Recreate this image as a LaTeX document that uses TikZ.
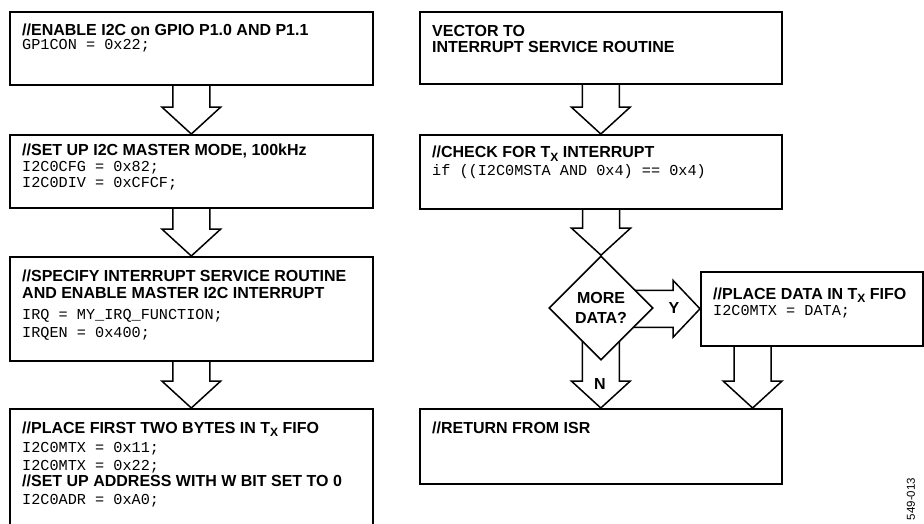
\documentclass[tikz,border=0pt]{standalone}
\usepackage{fontspec}
\setmainfont{Liberation Sans}
\newfontfamily\sansb{Liberation Sans}[BoldFont={* Bold}]
\newfontfamily\monof{Liberation Mono}
\usetikzlibrary{shapes.geometric,calc}
\pgfdeclarelayer{back}
\pgfdeclarelayer{bg}
\pgfsetlayers{back,bg,main}
\newcommand\bfx{\sansb\bfseries\fontsize{16}{16}\selectfont}
\newcommand\diafont{\sansb\bfseries\fontsize{16}{19.5}\selectfont}
\newcommand\mfx{\monof\mdseries\fontsize{15.2}{15.2}\selectfont}
\newcommand\Lb[2]{\par\bfx\baselineskip=#1pt\relax #2}
\newcommand\Lm[2]{\par\mfx\baselineskip=#1pt\relax #2}
\newcommand\TX{T\raisebox{-3.5pt}{\fontsize{12}{12}\selectfont X}}
\newcommand\txtblock[1]{\parbox[t]{340pt}{\lineskiplimit=-100pt\relax\bfx #1}}
\newcommand\blockdown[2]{\draw[barrow] let \p1=(#1), \p2=(#2) in
  (\x2-18.5pt,\y1) -- (\x2-18.5pt,\y2+27pt) -- (\x2-29.5pt,\y2+27pt) -- (\x2,\y2)
  -- (\x2+29.5pt,\y2+27pt) -- (\x2+18.5pt,\y2+27pt) -- (\x2+18.5pt,\y1);}
\newcommand\blockright[2]{\draw[barrow] let \p1=(#1), \p2=(#2) in
  (\x1,\y2+18.5pt) -- (\x2-27pt,\y2+18.5pt) -- (\x2-27pt,\y2+28.5pt) -- (\x2,\y2)
  -- (\x2-27pt,\y2-28.5pt) -- (\x2-27pt,\y2-18.5pt) -- (\x1,\y2-18.5pt);}
\tikzset{
  box/.style={draw, line width=1.6pt, fill=white, rectangle, inner sep=0pt, anchor=north west},
  txt/.style={anchor=base west, inner sep=0pt},
  barrow/.style={draw, line width=1.5pt, fill=white, line join=miter},
  lbl/.style={font=\bfx, anchor=base, inner sep=0pt},
}
\begin{document}
\begin{tikzpicture}[x=1pt,y=-1pt]
\begin{pgfonlayer}{back}
\fill[white] (0,0) rectangle (924,523);
\end{pgfonlayer}
\useasboundingbox (0,0) rectangle (924,523);
% left column boxes
\node[box, minimum width=363pt, minimum height=73pt] (b1) at (9,11) {};
\node[box, minimum width=363pt, minimum height=73pt] (b2) at (9,134) {};
\node[box, minimum width=363pt, minimum height=104pt] (b3) at (9,256) {};
\node[box, minimum width=363pt, minimum height=140pt] (b4) at (9,408) {};
% right column boxes
\node[box, minimum width=362pt, minimum height=72pt] (v) at (419,11) {};
\node[box, minimum width=362pt, minimum height=74pt] (chk) at (419,134) {};
\node[box, minimum width=222pt, minimum height=74pt] (pd) at (700,271) {};
\node[box, minimum width=362pt, minimum height=75pt] (ret) at (419,408) {};
\node[diamond, draw, line width=1.6pt, fill=white, inner sep=0pt, minimum width=104pt,
      minimum height=104pt, align=center, font=\diafont] (dia) at (601,308) {MORE\\DATA?};
% texts
\node[txt] (t1) at (22,35.3) {\txtblock{//ENABLE I2C on GPIO P1.0 AND P1.1\Lm{14.6}{GP1CON = 0x22;}}};
\node[txt] (t2) at (22,155.8) {\txtblock{//SET UP I2C MASTER MODE, 100kHz\Lm{15.4}{I2C0CFG = 0x82;}\Lm{16}{I2C0DIV = 0xCFCF;}}};
\node[txt] (t3) at (22,281.8) {\txtblock{//SPECIFY INTERRUPT SERVICE ROUTINE\Lb{16.5}{AND ENABLE MASTER I2C INTERRUPT}\Lm{20.8}{IRQ = MY\_IRQ\_FUNCTION;}\Lm{18}{IRQEN = 0x400;}}};
\node[txt] (t4) at (22,433) {\txtblock{//PLACE FIRST TWO BYTES IN \TX{} FIFO\Lm{19.5}{I2C0MTX = 0x11;}\Lm{18}{I2C0MTX = 0x22;}\Lb{15.5}{//SET UP ADDRESS WITH W BIT SET TO 0}\Lm{18}{I2C0ADR = 0xA0;}}};
\node[txt] (t5) at (432,36) {\txtblock{VECTOR TO\Lb{16.7}{INTERRUPT SERVICE ROUTINE}}};
\node[txt] (t6) at (432,157.6) {\txtblock{//CHECK FOR \TX{} INTERRUPT\Lm{17.4}{if ((I2C0MSTA AND 0x4) == 0x4)}}};
\node[txt] (t7) at (713,299.4) {\txtblock{//PLACE DATA IN \TX{} FIFO\Lm{15.6}{I2C0MTX = DATA;}}};
\node[txt] (t8) at (432,433) {\txtblock{//RETURN FROM ISR}};
% connectors (block arrows)
\begin{pgfonlayer}{bg}
\blockdown{b1.south}{b2.north}
\blockdown{b2.south}{b3.north}
\blockdown{b3.south}{b4.north}
\blockdown{v.south}{chk.north}
\blockdown{chk.south}{dia.north}
\blockright{dia.center}{pd.west}
\blockdown{dia.center}{ret.north}
\blockdown{[xshift=51pt]pd.south west}{[xshift=-30pt]ret.north east}
\end{pgfonlayer}
\node[lbl] (ylab) at (674,313) {Y};
\node[lbl] (nlab) at (600,389) {N};
\node[rotate=90, font=\fontsize{11.5}{11.5}\selectfont, inner sep=0pt] (fig) at (911,499) {549-013};
\end{tikzpicture}
\end{document}
